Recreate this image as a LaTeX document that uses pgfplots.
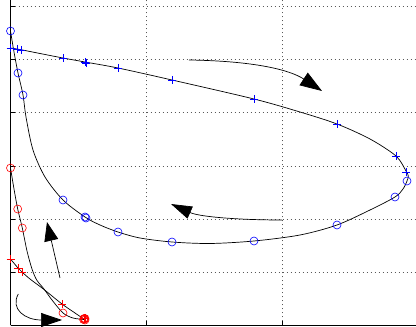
\documentclass[border=0pt]{standalone}
\usepackage{pgfplots}
\pgfplotsset{compat=1.18}
\usetikzlibrary{arrows.meta}
\begin{document}
\begin{tikzpicture}
\path[use as bounding box] (-10.5pt,-1.5pt) rectangle (405.5pt,325.5pt);
\begin{axis}[
  scale only axis, width=405.5pt, height=325.5pt,
  xmin=10.5, xmax=416, ymin=1.5, ymax=327,
  axis x line=bottom, axis y line=left,
  axis line style={-, black, line width=0.6pt},
  xtick={10.5,146,282}, ytick={1.5,54.7,107.9,161.1,214.3,267.5,320.7},
  xticklabels={}, yticklabels={},
  tick align=inside, major tick length=4pt,
  tick style={black, line width=0.5pt},
  grid=major,
  major grid style={dash pattern=on 1pt off 3pt, black!65, line width=0.6pt},
  clip=false,
]
% blue loop line
\addplot[black, line width=0.7pt, smooth, tension=0.5] coordinates {
(10.5,279) (17,278) (21,277.3) (40,273.5) (63,269) (85,265) (118,259) (172,247) (254,228) (300,215) (337,203) (370,188) (396,171) (406,156) (408.3,151) (407,146) (403,138) (395,130) (370,117) (337,102) (300,92) (254,86) (210,83.5) (172,85) (140,89) (118,95) (100,102) (85,110) (63,127) (45,150) (33,177) (26,210) (23,232) (18,254) (14,275) (10.5,296)};
% red lines
\addplot[black, line width=0.7pt, smooth, tension=0.5] coordinates {
(10.5,159) (14,138) (17.7,118) (22.3,99) (27,76) (32,58) (36.7,47) (44,38) (52,27) (63,14) (73,9) (84,7.5)};
\addplot[black, line width=0.7pt, smooth, tension=0.5] coordinates {
(10.5,68) (18,59) (22,55) (30,48) (44,37.5) (62,23) (75,14) (84,8)};
% blue markers
\addplot[only marks, blue, mark=+, mark size=4pt, line width=0.6pt] coordinates {
(10.5,279) (17,278) (21,277) (63,269) (85,265) (86,264) (118,259) (172,247) (254,228) (337,203) (396,171) (406,155)};
\addplot[only marks, blue, mark=o, mark size=4pt, line width=0.6pt] coordinates {
(10.5,296) (18,254) (23,232) (63,127) (85,110) (86,109) (118,95) (172,85) (254,86) (337,102) (395,130) (407,146)};
% red markers
\addplot[only marks, red, mark=o, mark size=4pt, line width=0.6pt] coordinates {
(10.5,159) (17.7,118) (22.3,99) (63,14) (83.5,7.5) (84.5,8) (85,7) (84,8.5) (85,8.5)};
\addplot[only marks, red, mark=+, mark size=4pt, line width=0.7pt] coordinates {
(10.5,68) (18,59) (22,55) (62,23) (84,8.5) (85,9)};
% direction arrows
\draw[black, line width=0.7pt, -{Triangle[length=22pt,width=15pt]}] (axis cs:189,267) .. controls (axis cs:255,266) and (axis cs:290,257) .. (axis cs:322,236);
\draw[black, line width=0.7pt, -{Triangle[length=21pt,width=13pt]}] (axis cs:282,107) .. controls (axis cs:240,107) and (axis cs:200,110) .. (axis cs:171,123);
\draw[black, line width=0.7pt, -{Triangle[length=19pt,width=14pt]}] (axis cs:60,49) -- (axis cs:47,105);
\draw[black, line width=0.7pt, -{Triangle[length=21pt,width=14pt]}] (axis cs:18.3,33) .. controls (axis cs:10,18) and (axis cs:25,7) .. (axis cs:62,7);
\end{axis}
\end{tikzpicture}
\end{document}
